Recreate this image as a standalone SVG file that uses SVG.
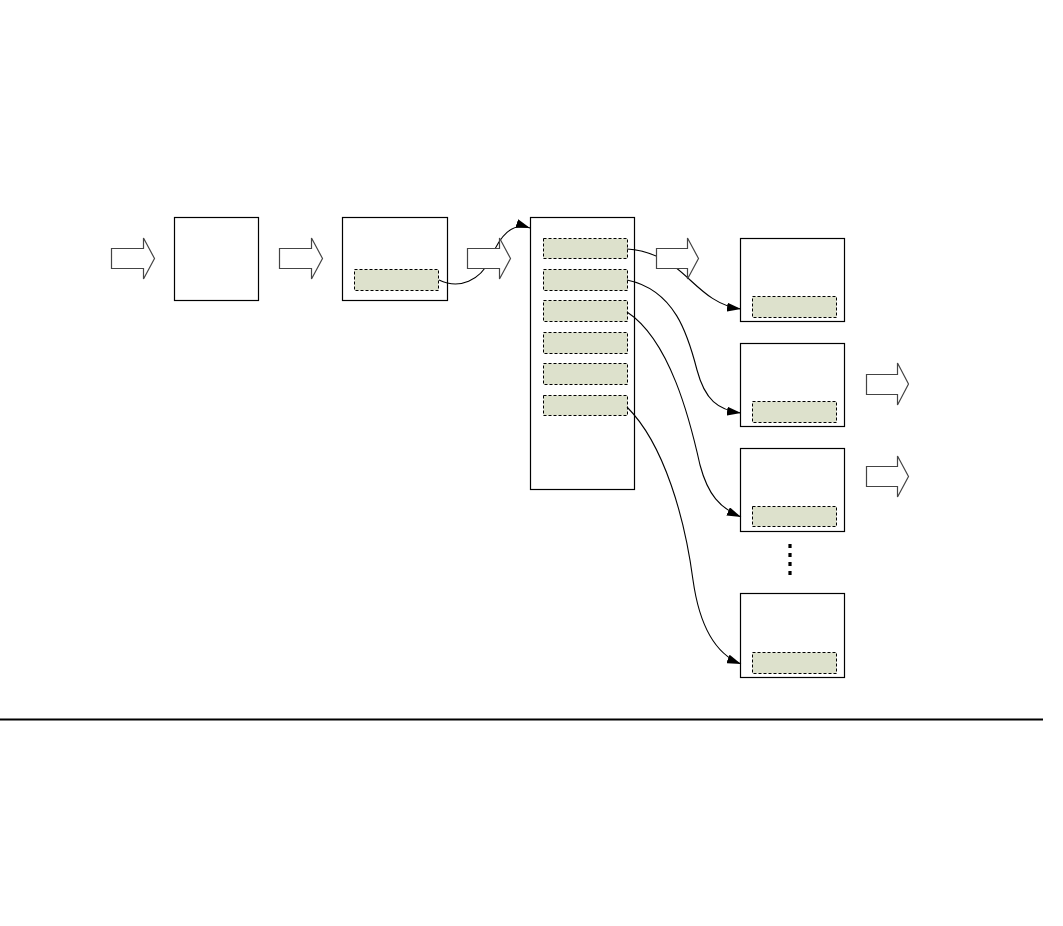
<svg xmlns="http://www.w3.org/2000/svg" width="1063" height="926" viewBox="0 0 1063 926">
<style>
.box{fill:#fff;stroke:#000;stroke-width:1.2}
.slot{fill:#dde1cc;stroke:#000;stroke-width:1;stroke-dasharray:3,2}
.blk{fill:#fff;stroke:#444;stroke-width:1.2;stroke-linejoin:miter}
.con{fill:none;stroke:#000;stroke-width:1.1}
</style>
<defs>
<marker id="ah" viewBox="0 0 14 9" refX="14" refY="4.5" markerWidth="14" markerHeight="9" markerUnits="userSpaceOnUse" orient="auto">
<path d="M0,0 L14,4.5 L0,9 Z" fill="#000"/>
</marker>
</defs>
<rect width="1063" height="926" fill="#fff"/>
<g id="node-box1"><rect class="box" x="174.5" y="217.5" width="84" height="83"/></g>
<g id="node-box2"><rect class="box" x="342.5" y="217.5" width="105" height="83"/><rect class="slot" x="354.5" y="269.5" width="84" height="21"/></g>
<g id="node-table"><rect class="box" x="530.5" y="217.5" width="104" height="272"/>
<rect class="slot" x="543.5" y="238.5" width="84" height="20"/>
<rect class="slot" x="543.5" y="269.5" width="84" height="21"/>
<rect class="slot" x="543.5" y="300.5" width="84" height="21"/>
<rect class="slot" x="543.5" y="332.5" width="84" height="21"/>
<rect class="slot" x="543.5" y="363.5" width="84" height="21"/>
<rect class="slot" x="543.5" y="395.5" width="84" height="20"/>
</g>
<g id="node-outA"><rect class="box" x="740.5" y="238.5" width="104" height="83"/><rect class="slot" x="752.5" y="296.5" width="84" height="21"/></g>
<g id="node-outB"><rect class="box" x="740.5" y="343.5" width="104" height="83"/><rect class="slot" x="752.5" y="401.5" width="84" height="21"/></g>
<g id="node-outC"><rect class="box" x="740.5" y="448.5" width="104" height="83"/><rect class="slot" x="752.5" y="506.5" width="84" height="20"/></g>
<g id="node-outD"><rect class="box" x="740.5" y="593.5" width="104" height="84"/><rect class="slot" x="752.5" y="652.5" width="84" height="21"/></g>
<g id="node-dots"><line x1="790" y1="544" x2="790" y2="577" stroke="#000" stroke-width="3.2" stroke-dasharray="4,5"/></g>
<g id="connectors">
<path class="con" marker-end="url(#ah)" d="M439,280 C460,290 480,280 490,260 C500,235 512,222 530,228"/>
<path class="con" marker-end="url(#ah)" d="M627,249 C645,250 660,256 675,267 C695,282 710,305 741,309"/>
<path class="con" marker-end="url(#ah)" d="M627,280 C675,290 688,335 697,370 C705,400 718,410 741,413"/>
<path class="con" marker-end="url(#ah)" d="M627,312 C670,340 690,420 700,465 C708,495 720,508 741,517"/>
<path class="con" marker-end="url(#ah)" d="M627,407 C665,445 685,520 693,580 C700,630 718,655 741,664"/>
</g>
<g id="node-arrow1"><path class="blk" d="M111.5,248.5 H143.5 V238 L154.5,258.5 L143.5,279 V268.5 H111.5 Z"/></g>
<g id="node-arrow2"><path class="blk" d="M279.5,248.5 H311.5 V238 L322.5,258.5 L311.5,279 V268.5 H279.5 Z"/></g>
<g id="node-arrow3"><path class="blk" d="M467.5,248.5 H499.5 V238 L510.5,258.5 L499.5,279 V268.5 H467.5 Z"/></g>
<g id="node-arrow4"><path class="blk" d="M656.5,248.5 H687.5 V238 L698.5,258.5 L687.5,279 V268.5 H656.5 Z"/></g>
<g id="node-arrow5"><path class="blk" d="M866.5,374.5 H897.5 V363 L908.5,384 L897.5,405 V394.5 H866.5 Z"/></g>
<g id="node-arrow6"><path class="blk" d="M866.5,466.5 H897.5 V456 L908.5,476.5 L897.5,497 V486.5 H866.5 Z"/></g>
<g id="rule"><line x1="0" y1="719.5" x2="1043" y2="719.5" stroke="#000" stroke-width="2"/></g>
</svg>
